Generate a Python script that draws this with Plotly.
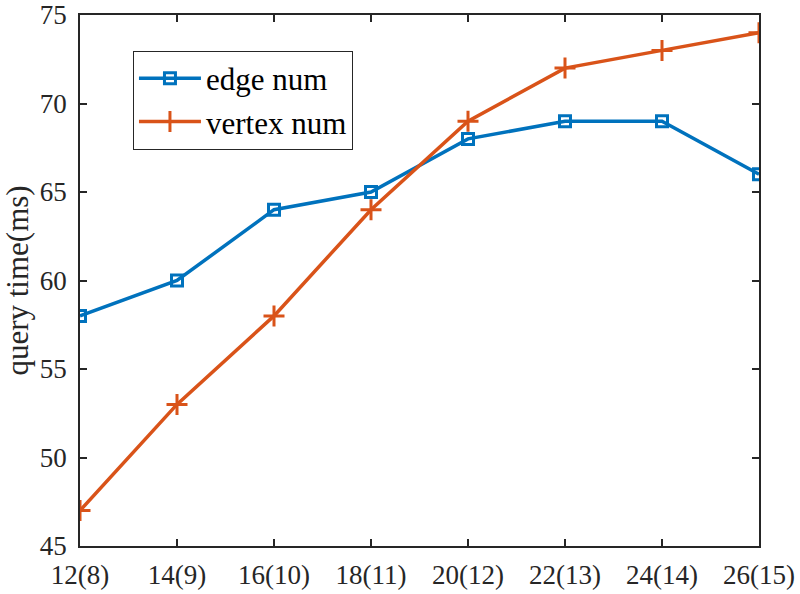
import plotly.graph_objects as go

categories = ["12(8)", "14(9)", "16(10)", "18(11)", "20(12)", "22(13)", "24(14)", "26(15)"]
edge_num = [58, 60, 64, 65, 68, 69, 69, 66]
vertex_num = [47, 53, 58, 64, 69, 72, 73, 74]
y_ticks = [45, 50, 55, 60, 65, 70, 75]

xs = list(range(len(categories)))
blue = "#0072BD"
orange = "#D95319"
axc = "#262626"
font = "Liberation Serif"

fig = go.Figure()
fig.add_trace(go.Scatter(
    x=xs, y=edge_num, name="edge num", mode="lines+markers",
    line=dict(color=blue, width=3.5),
    marker=dict(symbol="square-open", size=11, color=blue, line=dict(color=blue, width=3)),
))
fig.add_trace(go.Scatter(
    x=xs, y=vertex_num, name="vertex num", mode="lines+markers",
    line=dict(color=orange, width=3.5),
    marker=dict(symbol="cross-thin-open", size=15, color=orange, line=dict(color=orange, width=3)),
))

axis_common = dict(
    showline=True, linecolor=axc, linewidth=1.5, mirror="ticks",
    ticks="inside", ticklen=7, tickcolor=axc, tickwidth=1.5,
    showgrid=False, zeroline=False, ticklabeloverflow="allow", automargin=False,
    tickfont=dict(family=font, size=27, color=axc),
)

fig.update_layout(
    width=800, height=594,
    margin=dict(l=80, r=41, t=15, b=48),
    paper_bgcolor="white", plot_bgcolor="white",
    font=dict(family=font, color=axc),
    xaxis=dict(range=[0, 7], tickvals=xs, ticktext=categories, ticklabelstandoff=4, **axis_common),
    yaxis=dict(range=[45, 75], tickvals=y_ticks, ticklabelstandoff=6,
               title=dict(text="query time(ms)", font=dict(family=font, size=31, color=axc), standoff=2),
               **axis_common),
    legend=dict(
        x=0.078, y=0.933, xanchor="left", yanchor="top",
        bgcolor="white", bordercolor=axc, borderwidth=1,
        font=dict(family=font, size=31, color="black"),
        itemwidth=62, tracegroupgap=0,
    ),
    showlegend=True,
)

fig.write_html("out.html")
